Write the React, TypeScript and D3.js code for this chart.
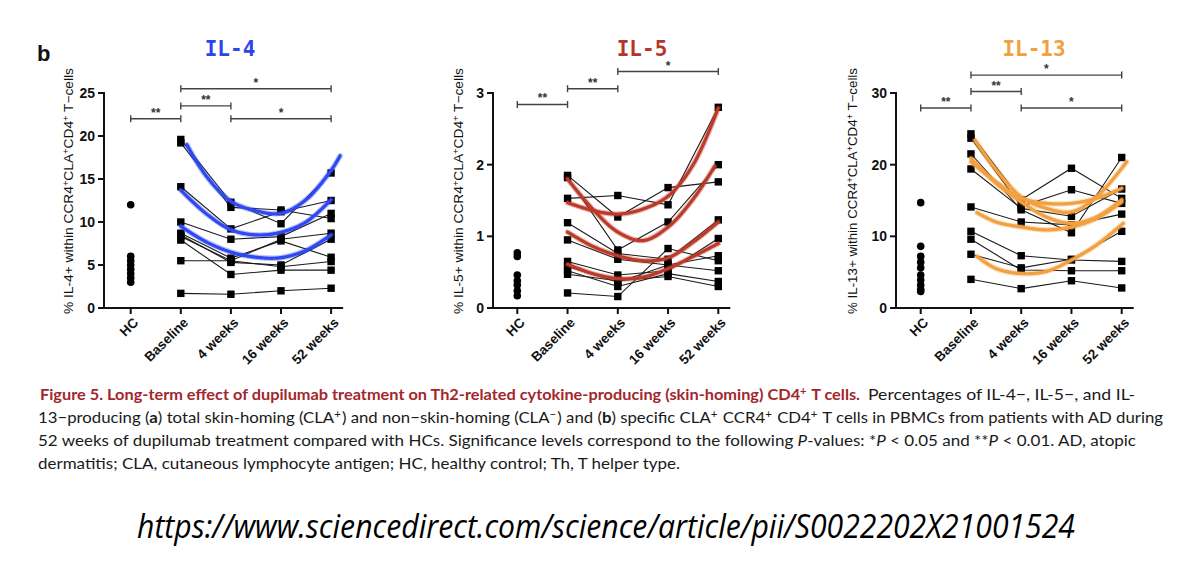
import React from 'react';
import * as d3 from 'd3';

// ---- data ----
const categories = ['HC', 'Baseline', '4 weeks', '16 weeks', '52 weeks'];

// IL-4
const il4Ticks = [0, 5, 10, 15, 20, 25];
const il4HC = [12.0, 6.0, 5.5, 5.0, 4.5, 4.0, 3.5, 3.0];
// each row: Baseline, 4 weeks, 16 weeks, 52 weeks
const il4Patients = [
  [19.6, 12.3, 9.8, 15.7],
  [19.2, 11.7, 11.4, 10.4],
  [14.1, 9.2, 11.2, 12.5],
  [10.0, 8.0, 8.3, 11.0],
  [8.7, 5.8, 7.8, 5.9],
  [8.3, 5.5, 8.0, 8.7],
  [8.5, 5.3, 5.0, 8.0],
  [7.9, 3.9, 4.4, 4.4],
  [5.5, 5.5, 4.8, 5.4],
  [1.7, 1.6, 2.0, 2.3],
];
const il4Fits: [number, number][][] = [
  [[1.12, 19.0], [1.5, 15.4], [2, 12.4], [2.5, 11.3], [3, 11.0], [3.5, 12.6], [4, 16.0], [4.18, 17.7]],
  [[1.0, 13.7], [1.5, 11.0], [2, 9.1], [2.5, 8.5], [3, 8.8], [3.5, 10.0], [4, 12.6]],
  [[1.0, 9.5], [1.5, 7.7], [2, 6.5], [2.5, 5.9], [3, 5.85], [3.5, 6.7], [4, 8.5]],
];
const il4Sig: [number, number, number, string][] = [
  [0, 1, 22.0, '**'],
  [1, 4, 25.5, '*'],
  [1, 2, 23.5, '**'],
  [2, 4, 22.0, '*'],
];

// IL-5
const il5Ticks = [0, 1, 2, 3];
const il5HC = [0.77, 0.72, 0.46, 0.38, 0.32, 0.24, 0.17];
const il5Patients = [
  [1.85, 1.27, 1.68, 1.76],
  [1.53, 1.57, 1.44, 2.8],
  [1.82, 0.81, 1.2, 2.0],
  [1.19, 0.76, 0.68, 1.23],
  [0.95, 0.68, 0.6, 0.52],
  [0.65, 0.46, 0.52, 0.97],
  [0.58, 0.36, 0.6, 0.73],
  [0.52, 0.3, 0.48, 0.37],
  [0.47, 0.38, 0.44, 0.3],
  [0.21, 0.16, 0.83, 0.66],
];
const il5Fits: [number, number][][] = [
  [[1.0, 1.8], [1.5, 1.38], [2, 1.06], [2.5, 0.94], [3, 1.13], [3.5, 1.52], [3.93, 1.98]],
  [[1.0, 1.47], [1.5, 1.36], [2, 1.31], [2.5, 1.38], [3, 1.56], [3.5, 2.0], [4, 2.79]],
  [[1.0, 1.06], [1.5, 0.86], [2, 0.73], [2.5, 0.66], [3, 0.7], [3.5, 0.92], [4, 1.2]],
  [[1.0, 0.61], [1.5, 0.48], [2, 0.41], [2.5, 0.43], [3, 0.55], [3.5, 0.72], [4, 0.9]],
];
const il5Sig: [number, number, number, string][] = [
  [0, 1, 2.84, '**'],
  [1, 2, 3.06, '**'],
  [2, 4, 3.3, '*'],
];

// IL-13
const il13Ticks = [0, 10, 20, 30];
const il13HC = [14.7, 8.6, 7.2, 6.4, 5.6, 4.6, 3.9, 3.2, 2.6, 2.3];
const il13Patients = [
  [24.3, 15.1, 19.5, 15.3],
  [23.7, 14.2, 16.5, 14.6],
  [21.5, 13.7, 10.5, 21.0],
  [19.4, 13.9, 12.8, 16.6],
  [14.1, 12.0, 11.6, 13.1],
  [10.7, 7.3, 6.7, 6.5],
  [9.6, 5.3, 5.2, 5.2],
  [7.5, 5.6, 6.8, 10.7],
  [4.0, 2.7, 3.8, 2.8],
];
const il13Fits: [number, number][][] = [
  [[1.08, 23.4], [1.5, 19.3], [2, 15.5], [2.5, 13.9], [3, 13.4], [3.5, 15.5], [4.1, 20.4]],
  [[1.0, 20.4], [1.5, 17.6], [2, 15.3], [2.5, 14.6], [3, 14.6], [3.5, 15.3], [4, 16.7]],
  [[1.0, 20.9], [1.5, 17.4], [2, 14.8], [2.5, 12.7], [3, 11.8], [3.5, 12.7], [4, 15.1]],
  [[1.12, 13.3], [1.5, 12.0], [2, 11.3], [2.5, 10.9], [3, 11.3], [3.5, 12.5], [4, 14.8]],
  [[1.12, 7.2], [1.5, 5.5], [2, 4.8], [2.5, 5.1], [3, 6.7], [3.5, 8.8], [4.03, 11.8]],
];
const il13Sig: [number, number, number, string][] = [
  [0, 1, 27.9, '**'],
  [1, 2, 30.2, '**'],
  [1, 4, 32.5, '*'],
  [2, 4, 27.9, '*'],
];

// ---- layout ----
const Y0 = 308;
const YTOP = 93;
const AX_FONT = "Arial, 'Liberation Sans', Helvetica, sans-serif";

function Panel(props: any) {
  const { name, color, fitColor, hc, patients, fits, ticks, sig, axisX, hcX, step, titleX, labelX } = props;
  const x = d3.scaleLinear().domain([0, 4]).range([hcX, hcX + 4 * step]);
  const y = d3.scaleLinear().domain([0, ticks[ticks.length - 1]]).range([Y0, YTOP]);
  const line = d3.line<number>().x((_, i) => x(i + 1)).y((d) => y(d));
  const fitLine = d3
    .line<[number, number]>()
    .x((d) => x(d[0]))
    .y((d) => y(d[1]))
    .curve(d3.curveCatmullRom.alpha(0.5));
  const axisEnd = x(4) + 12;
  const sq = 7.4;

  return (
    <g>
      <text x={titleX} y={56} textAnchor="middle" fill={color} fontSize={21} fontWeight="bold"
        fontFamily="'DejaVu Sans Mono', monospace">{name}</text>

      {/* y label */}
      <text transform={`translate(${labelX},${191}) rotate(-90)`} textAnchor="middle" fontSize={12.5}
        fontFamily={AX_FONT} fill="#111" textLength={246} lengthAdjust="spacingAndGlyphs">
        % {name}+ within CCR4<tspan dy={-4} fontSize={8.5}>+</tspan>
        <tspan dy={4}>CLA</tspan><tspan dy={-4} fontSize={8.5}>+</tspan>
        <tspan dy={4}>CD4</tspan><tspan dy={-4} fontSize={8.5}>+</tspan>
        <tspan dy={4}> T−cells</tspan>
      </text>

      {/* axes */}
      <line x1={axisX} x2={axisX} y1={YTOP - 1} y2={Y0} stroke="#111" strokeWidth={2} />
      <line x1={axisX - 1} x2={axisEnd} y1={Y0} y2={Y0} stroke="#111" strokeWidth={2} />
      {ticks.map((t: number) => (
        <g key={t}>
          <line x1={axisX - 6} x2={axisX} y1={y(t)} y2={y(t)} stroke="#111" strokeWidth={2} />
          <text x={axisX - 9} y={y(t)} dy="0.36em" textAnchor="end" fontSize={14} fontWeight="bold"
            fontFamily={AX_FONT} fill="#111">{t}</text>
        </g>
      ))}
      {categories.map((c, i) => (
        <g key={c}>
          <line x1={x(i)} x2={x(i)} y1={Y0} y2={Y0 + 6} stroke="#111" strokeWidth={2} />
          <text transform={`translate(${x(i) + 5},${Y0 + 12}) rotate(-45)`} textAnchor="end" dy="0.35em"
            fontSize={13.5} fontWeight="bold" fontFamily={AX_FONT} fill="#111">{c}</text>
        </g>
      ))}

      {/* significance brackets */}
      {sig.map((s: [number, number, number, string], i: number) => (
        <g key={i} stroke="#444" strokeWidth={1.4}>
          <line x1={x(s[0])} x2={x(s[1])} y1={y(s[2])} y2={y(s[2])} />
          <line x1={x(s[0])} x2={x(s[0])} y1={y(s[2]) - 3.5} y2={y(s[2]) + 3.5} />
          <line x1={x(s[1])} x2={x(s[1])} y1={y(s[2]) - 3.5} y2={y(s[2]) + 3.5} />
          <text x={(x(s[0]) + x(s[1])) / 2} y={y(s[2]) - 2} textAnchor="middle" fontSize={12}
            fontWeight="bold" fontFamily={AX_FONT} fill="#333" stroke="none">{s[3]}</text>
        </g>
      ))}

      {/* HC dots */}
      {hc.map((v: number, i: number) => (
        <circle key={i} cx={x(0)} cy={y(v)} r={3.8} fill="#000" />
      ))}

      {/* patient trajectories */}
      {patients.map((p: number[], i: number) => (
        <path key={i} d={line(p) || ''} fill="none" stroke="#1a1a1a" strokeWidth={1.1} />
      ))}
      {patients.map((p: number[], i: number) =>
        p.map((v, j) => (
          <rect key={`${i}-${j}`} x={x(j + 1) - sq / 2} y={y(v) - sq / 2} width={sq} height={sq} fill="#000" />
        ))
      )}

      {/* fitted curves */}
      {fits.map((f: [number, number][], i: number) => (
        <g key={i} fill="none" strokeLinecap="round">
          <path d={fitLine(f) || ''} stroke={fitColor} strokeWidth={5.5} strokeOpacity={0.35} />
          <path d={fitLine(f) || ''} stroke={fitColor} strokeWidth={3.2} strokeDasharray="1.2 0.6" />
        </g>
      ))}
    </g>
  );
}

const CAP_FONT = "Lato, 'Open Sans', 'Noto Sans', sans-serif";
const SUP = (s: string) => (
  <>
    <tspan dy={-5} fontSize={11}>{s}</tspan>
    <tspan dy={5}>{'\u200A'}</tspan>
  </>
);

export default function App() {
  return (
    <svg width={1200} height={571} style={{ position: 'absolute', left: 0, top: 0, background: '#fff' }}>
      <rect width={1200} height={571} fill="#fff" />
      <text x={37} y={61} fontSize={22} fontWeight="bold" fontFamily={AX_FONT} fill="#111">b</text>

      <Panel name="IL-4" color="#2c45ee" fitColor="#2f48f2" hc={il4HC} patients={il4Patients} fits={il4Fits}
        ticks={il4Ticks} sig={il4Sig} axisX={104} hcX={130.7} step={50.1} titleX={230} labelX={73} />
      <Panel name="IL-5" color="#b5352a" fitColor="#bb3a2a" hc={il5HC} patients={il5Patients} fits={il5Fits}
        ticks={il5Ticks} sig={il5Sig} axisX={493} hcX={517.3} step={50.25} titleX={642} labelX={463} />
      <Panel name="IL-13" color="#f2a03d" fitColor="#f3a040" hc={il13HC} patients={il13Patients} fits={il13Fits}
        ticks={il13Ticks} sig={il13Sig} axisX={896} hcX={920.7} step={50.25} titleX={1034} labelX={857} />

      {/* caption */}
      <g fontFamily={CAP_FONT} fontSize={16} fill="#1a1a1a">
        <text x={40} y={400} fontWeight="bold" fill="#a3262c" textLength={820} lengthAdjust="spacingAndGlyphs">
          Figure 5. Long-term effect of dupilumab treatment on Th2-related cytokine-producing (skin-homing) CD4{SUP('+')} T cells.
        </text>
        <text x={868} y={400} textLength={267} lengthAdjust="spacingAndGlyphs">
          Percentages of IL-4−, IL-5−, and IL-
        </text>
        <text x={38} y={423} textLength={1125} lengthAdjust="spacingAndGlyphs">
          13−producing (<tspan fontWeight="bold">a</tspan>) total skin-homing (CLA{SUP('+')}) and non−skin-homing (CLA{SUP('−')}) and (<tspan fontWeight="bold">b</tspan>) specific CLA{SUP('+')} CCR4{SUP('+')} CD4{SUP('+')} T cells in PBMCs from patients with AD during
        </text>
        <text x={38} y={446} textLength={1098} lengthAdjust="spacingAndGlyphs">
          52 weeks of dupilumab treatment compared with HCs. Significance levels correspond to the following <tspan fontStyle="italic">P</tspan>-values: *<tspan fontStyle="italic">P</tspan> {'<'} 0.05 and **<tspan fontStyle="italic">P</tspan> {'<'} 0.01. AD, atopic
        </text>
        <text x={38} y={469} textLength={642} lengthAdjust="spacingAndGlyphs">
          dermatitis; CLA, cutaneous lymphocyte antigen; HC, healthy control; Th, T helper type.
        </text>
      </g>

      <text x={137} y={538} fontSize={33} fontStyle="italic" fill="#000"
        fontFamily="'Liberation Sans Narrow', 'Open Sans', sans-serif" textLength={938} lengthAdjust="spacingAndGlyphs">
        https://www.sciencedirect.com/science/article/pii/S0022202X21001524
      </text>
    </svg>
  );
}
